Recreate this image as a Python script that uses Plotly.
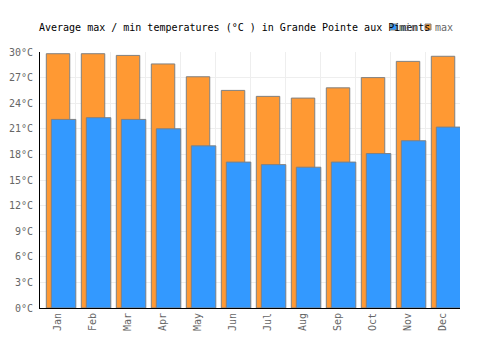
import plotly.graph_objects as go

months = ["Jan", "Feb", "Mar", "Apr", "May", "Jun", "Jul", "Aug", "Sep", "Oct", "Nov", "Dec"]
max_temp = [29.8, 29.8, 29.6, 28.6, 27.1, 25.5, 24.8, 24.6, 25.8, 27.0, 28.9, 29.5]
min_temp = [22.1, 22.3, 22.1, 21.0, 19.0, 17.1, 16.8, 16.5, 17.1, 18.1, 19.6, 21.2]
y_ticks = [0, 3, 6, 9, 12, 15, 18, 21, 24, 27, 30]
y_tick_labels = [f"{v}°C" for v in y_ticks]

ORANGE = "#FF9933"
BLUE = "#3399FF"
EDGE = "#808080"
FONT = "DejaVu Sans Mono"

fig = go.Figure()
fig.add_trace(go.Bar(
    x=months, y=max_temp, name="max",
    marker=dict(color=ORANGE, line=dict(color=EDGE, width=1)),
    offset=-0.32, width=0.67, showlegend=False,
))
fig.add_trace(go.Bar(
    x=months, y=min_temp, name="min",
    marker=dict(color=BLUE, line=dict(color=EDGE, width=1)),
    offset=-0.177, width=0.70, showlegend=False,
))

W, H = 500, 350
ml, mr, mt, mb = 40, 40, 52, 42
pw, ph = W - ml - mr, H - mt - mb


def px_x(p):
    return (p - ml) / pw


def px_y(p):
    return (H - mb - p) / ph


# custom legend
shapes = []
annotations = []
for sx, col, label, tx in [(391, BLUE, "min", 397), (425, ORANGE, "max", 433)]:
    shapes.append(dict(type="rect", xref="paper", yref="paper",
                       x0=px_x(sx), x1=px_x(sx + 6), y0=px_y(30), y1=px_y(24),
                       fillcolor=col, line=dict(color=EDGE, width=1)))
    annotations.append(dict(xref="paper", yref="paper", x=px_x(tx), y=px_y(27),
                            xanchor="left", yanchor="middle", showarrow=False,
                            text=label, font=dict(family=FONT, size=10, color="#666666")))

fig.update_layout(
    width=W, height=H,
    margin=dict(l=ml, r=mr, t=mt, b=mb, autoexpand=False),
    barmode="overlay",
    plot_bgcolor="white", paper_bgcolor="white",
    font=dict(family=FONT, size=10, color="#666666"),
    title=dict(text="Average max / min temperatures (°C ) in Grande Pointe aux Piments",
               xref="container", yref="container", x=39 / W, xanchor="left",
               y=1 - 27 / H, yanchor="middle",
               font=dict(family=FONT, size=10, color="#000000")),
    xaxis=dict(type="category", range=[-0.5, 11.5], tickson="boundaries",
               showgrid=True, gridcolor="#eeeeee", gridwidth=1,
               showline=True, linecolor="#000000", linewidth=1,
               tickangle=-90, ticks="", ticklen=0, automargin=False),
    yaxis=dict(range=[0, 30], tickmode="array", tickvals=y_ticks, ticktext=y_tick_labels,
               showgrid=True, gridcolor="#eeeeee", gridwidth=1,
               showline=True, linecolor="#000000", linewidth=1,
               zeroline=False, ticks="", ticklabelstandoff=4, automargin=False),
    shapes=shapes, annotations=annotations,
)

fig.write_html("out.html")
